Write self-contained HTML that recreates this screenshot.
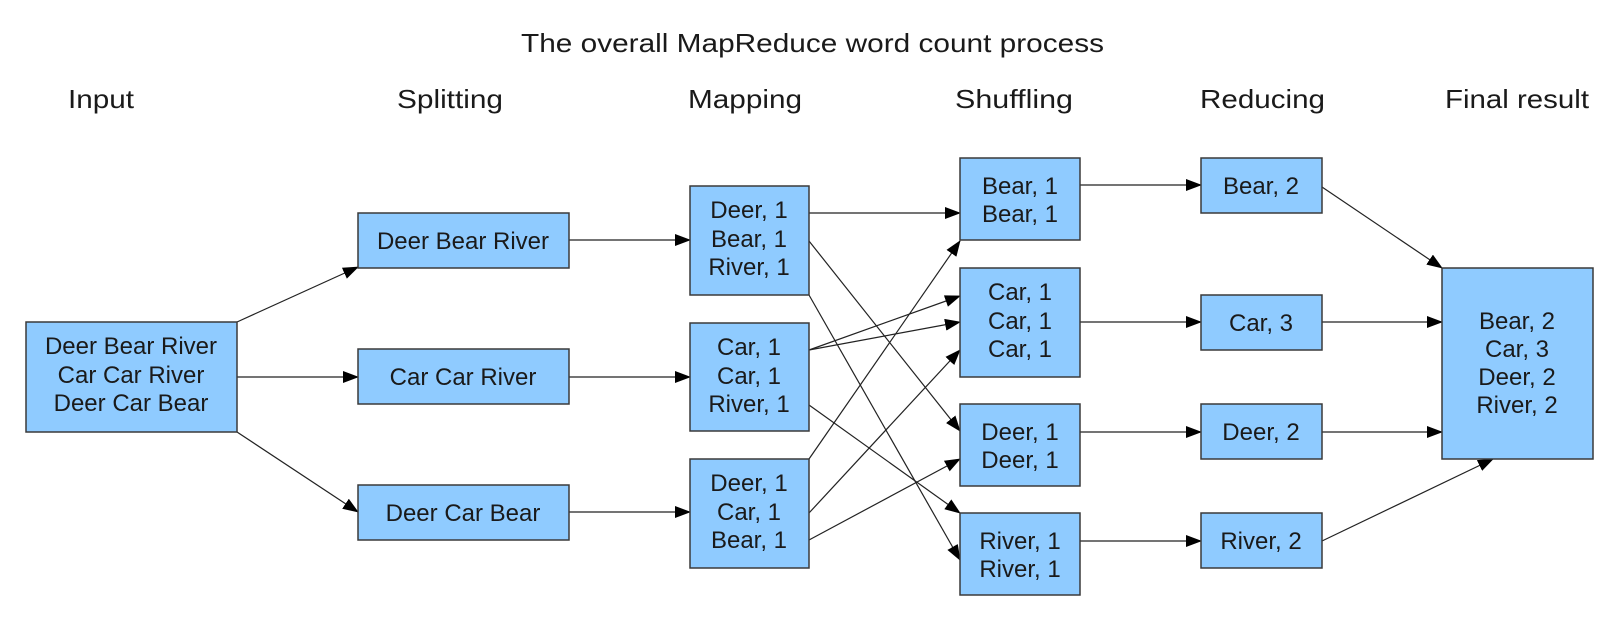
<!DOCTYPE html>
<html><head><meta charset="utf-8"><style>
html,body{margin:0;padding:0;background:#fff;}
svg{display:block;}
text{font-family:"Liberation Sans",Arial,sans-serif;fill:#1a1a1a;}
.b{fill:#8fcbff;stroke:#3a3a3a;stroke-width:1.5;}
.t{font-size:24px;text-anchor:middle;}
.l{stroke:#222;stroke-width:1.2;fill:none;marker-end:url(#a);}
</style></head><body>
<svg width="1618" height="634" viewBox="0 0 1618 634" xmlns="http://www.w3.org/2000/svg">
<defs><marker id="a" markerWidth="16" markerHeight="12" refX="15" refY="6" orient="auto" markerUnits="userSpaceOnUse"><path d="M0,0 L16,6 L0,12 z" fill="#000"/></marker></defs>
<text x="521" y="52" font-size="26" textLength="583" lengthAdjust="spacingAndGlyphs">The overall MapReduce word count process</text>
<g font-size="26">
<text x="68" y="108" textLength="66" lengthAdjust="spacingAndGlyphs">Input</text>
<text x="397" y="108" textLength="106" lengthAdjust="spacingAndGlyphs">Splitting</text>
<text x="688" y="108" textLength="114" lengthAdjust="spacingAndGlyphs">Mapping</text>
<text x="955" y="108" textLength="118" lengthAdjust="spacingAndGlyphs">Shuffling</text>
<text x="1200" y="108" textLength="125" lengthAdjust="spacingAndGlyphs">Reducing</text>
<text x="1445" y="108" textLength="144" lengthAdjust="spacingAndGlyphs">Final result</text>
</g>
<!-- connectors -->
<line class="l" x1="237" y1="322" x2="358" y2="267"/>
<line class="l" x1="237" y1="377" x2="358" y2="377"/>
<line class="l" x1="237" y1="432" x2="358" y2="512"/>
<line class="l" x1="569" y1="240" x2="690" y2="240"/>
<line class="l" x1="569" y1="377" x2="690" y2="377"/>
<line class="l" x1="569" y1="512" x2="690" y2="512"/>
<line class="l" x1="809" y1="213" x2="960" y2="213"/>
<line class="l" x1="809" y1="241" x2="960" y2="431"/>
<line class="l" x1="809" y1="295" x2="960" y2="560"/>
<line class="l" x1="809" y1="350" x2="960" y2="296"/>
<line class="l" x1="809" y1="350" x2="960" y2="322"/>
<line class="l" x1="809" y1="405" x2="960" y2="513"/>
<line class="l" x1="809" y1="459" x2="960" y2="241"/>
<line class="l" x1="809" y1="513" x2="960" y2="350"/>
<line class="l" x1="809" y1="540" x2="960" y2="459"/>
<line class="l" x1="1080" y1="185" x2="1201" y2="185"/>
<line class="l" x1="1080" y1="322" x2="1201" y2="322"/>
<line class="l" x1="1080" y1="432" x2="1201" y2="432"/>
<line class="l" x1="1080" y1="541" x2="1201" y2="541"/>
<line class="l" x1="1322" y1="187" x2="1442" y2="268"/>
<line class="l" x1="1322" y1="322" x2="1442" y2="322"/>
<line class="l" x1="1322" y1="432" x2="1442" y2="432"/>
<line class="l" x1="1322" y1="541" x2="1493" y2="459"/>
<!-- boxes -->
<rect class="b" x="26" y="322" width="211" height="110"/>
<text class="t" x="131" y="354">Deer Bear River</text>
<text class="t" x="131" y="383">Car Car River</text>
<text class="t" x="131" y="411">Deer Car Bear</text>

<rect class="b" x="358" y="213" width="211" height="55"/>
<text class="t" x="463" y="249">Deer Bear River</text>
<rect class="b" x="358" y="349" width="211" height="55"/>
<text class="t" x="463" y="385">Car Car River</text>
<rect class="b" x="358" y="485" width="211" height="55"/>
<text class="t" x="463" y="521">Deer Car Bear</text>

<rect class="b" x="690" y="186" width="119" height="109"/>
<text class="t" x="749" y="218">Deer, 1</text><text class="t" x="749" y="247">Bear, 1</text><text class="t" x="749" y="275">River, 1</text>
<rect class="b" x="690" y="323" width="119" height="108"/>
<text class="t" x="749" y="355">Car, 1</text><text class="t" x="749" y="384">Car, 1</text><text class="t" x="749" y="412">River, 1</text>
<rect class="b" x="690" y="459" width="119" height="109"/>
<text class="t" x="749" y="491">Deer, 1</text><text class="t" x="749" y="520">Car, 1</text><text class="t" x="749" y="548">Bear, 1</text>

<rect class="b" x="960" y="158" width="120" height="82"/>
<text class="t" x="1020" y="194">Bear, 1</text><text class="t" x="1020" y="222">Bear, 1</text>
<rect class="b" x="960" y="268" width="120" height="109"/>
<text class="t" x="1020" y="300">Car, 1</text><text class="t" x="1020" y="329">Car, 1</text><text class="t" x="1020" y="357">Car, 1</text>
<rect class="b" x="960" y="404" width="120" height="82"/>
<text class="t" x="1020" y="440">Deer, 1</text><text class="t" x="1020" y="468">Deer, 1</text>
<rect class="b" x="960" y="513" width="120" height="82"/>
<text class="t" x="1020" y="549">River, 1</text><text class="t" x="1020" y="577">River, 1</text>

<rect class="b" x="1201" y="158" width="121" height="55"/>
<text class="t" x="1261" y="194">Bear, 2</text>
<rect class="b" x="1201" y="295" width="121" height="55"/>
<text class="t" x="1261" y="331">Car, 3</text>
<rect class="b" x="1201" y="404" width="121" height="55"/>
<text class="t" x="1261" y="440">Deer, 2</text>
<rect class="b" x="1201" y="513" width="121" height="55"/>
<text class="t" x="1261" y="549">River, 2</text>

<rect class="b" x="1442" y="268" width="151" height="191"/>
<text class="t" x="1517" y="329">Bear, 2</text><text class="t" x="1517" y="357">Car, 3</text><text class="t" x="1517" y="385">Deer, 2</text><text class="t" x="1517" y="413">River, 2</text>
</svg>
</body></html>
